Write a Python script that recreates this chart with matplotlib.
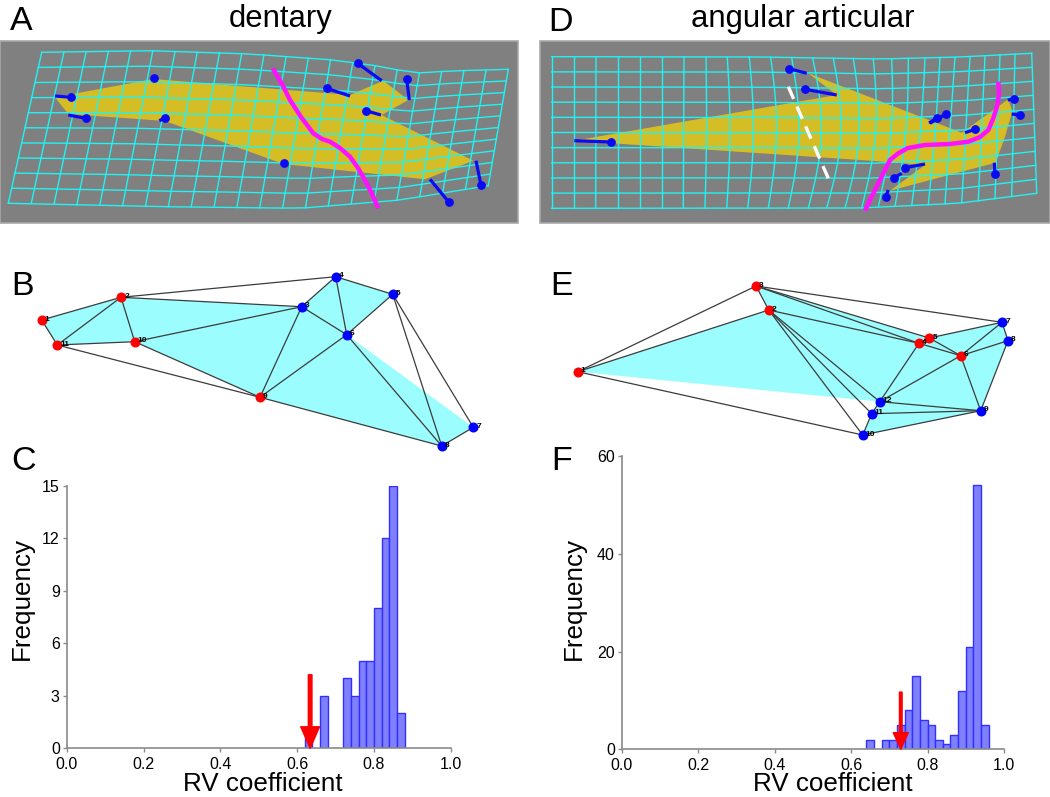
import numpy as np
import matplotlib
matplotlib.use('Agg')
import matplotlib.pyplot as plt
from matplotlib.patches import Polygon, Rectangle

plt.rcParams['font.family'] = ['Liberation Sans', 'DejaVu Sans']

# ---------------- histogram data (panels C and F) ----------------
bin_width = 0.02
c_bin_left = [0.62, 0.66, 0.72, 0.74, 0.76, 0.78, 0.80, 0.82, 0.84, 0.86]
c_counts = [1, 3, 4, 3, 5, 5, 8, 12, 15, 2]
c_observed = 0.634
c_arrow_top = 4.2

f_bin_left = [0.64, 0.68, 0.70, 0.72, 0.74, 0.76, 0.78, 0.80, 0.82, 0.84,
              0.86, 0.88, 0.90, 0.92, 0.94]
f_counts = [2, 2, 2, 5, 8, 15, 6, 5, 2, 1, 3, 12, 21, 54, 5]
f_observed = 0.73
f_arrow_top = 11.7

x_ticks = [0.0, 0.2, 0.4, 0.6, 0.8, 1.0]
x_tick_labels = ['0.0', '0.2', '0.4', '0.6', '0.8', '1.0']
c_y_ticks = [0, 3, 6, 9, 12, 15]
f_y_ticks = [0, 20, 40, 60]

# ---------------- landmark networks (panels B and E) ----------------
b_x = [41.7, 121, 301.7, 335.7, 392.7, 346.7, 473.3, 441.7, 260, 134.7, 57.3]
b_y = [320, 297.3, 306.7, 276.7, 294.3, 334.7, 427.3, 446, 397.3, 341.7, 345]
b_red = [1, 2, 9, 10, 11]
b_edges = [(1, 2), (1, 11), (2, 11), (2, 10), (11, 10), (2, 4), (2, 3), (10, 3),
           (10, 9), (11, 9), (3, 4), (3, 6), (3, 9), (4, 6), (4, 5), (5, 6),
           (5, 8), (5, 7), (6, 9), (6, 8), (9, 8), (8, 7)]
b_outline = [1, 2, 3, 4, 5, 6, 7, 8, 9, 10, 11]

e_x = [577.7, 768.7, 756, 919, 929.3, 960.7, 1002, 1008, 980.7, 862.7, 871.7, 879.7]
e_y = [371.7, 310, 286, 343.3, 338, 355.7, 322.3, 340.7, 410.7, 435, 413.7, 401.7]
e_red = [1, 2, 3, 4, 5, 6]
e_edges = [(1, 3), (1, 2), (1, 10), (3, 2), (3, 7), (3, 4), (3, 5), (2, 4),
           (2, 12), (2, 11), (2, 10), (4, 6), (4, 5), (5, 7), (5, 6), (6, 7),
           (6, 8), (7, 8), (8, 9), (6, 9), (6, 12), (4, 12), (12, 9), (11, 9),
           (10, 9), (10, 11), (11, 12)]
e_outline = [1, 2, 3, 5, 7, 8, 9, 10, 11, 12]

# ---------------- deformation grids (panels A and D) ----------------
a_box = (0, 40.7, 518, 223)
a_top_x = [41.7, 150, 250, 333, 383, 413, 450, 508.3]
a_top_y = [52.3, 50.7, 54, 60, 66.7, 73.3, 71, 69.3]
a_bot_x = [8.3, 166.7, 300, 400, 488.3]
a_bot_y = [203.3, 206.7, 208.3, 200, 185.7]
a_cols, a_rows = 21, 10
a_shape_x = [55, 153.3, 350, 383.3, 408.3, 381.7, 473.3, 425, 283.3, 165, 68.3]
a_shape_y = [97.3, 79, 95, 80.7, 100, 115, 160.7, 179.3, 164, 121, 114]
a_dot_x = [71, 154.3, 85.7, 165, 284.3, 326.7, 357.7, 406.7, 365.7, 481, 449]
a_dot_y = [97.3, 78.3, 118.3, 117.7, 163.3, 88.3, 63.3, 79.3, 110.7, 185.3, 202.3]
a_tail_x = [55, 156, 68.3, 159.3, 284.3, 350, 381.7, 409.3, 381, 476, 430]
a_tail_y = [96, 79, 115, 120.7, 163.3, 96, 80.7, 100, 115, 160.7, 179.3]
a_curve_x = [272.7, 282, 290, 301, 313.3, 322, 330, 340, 350, 358, 366.7, 372.5, 378.3]
a_curve_y = [68.3, 84, 100, 117, 133.3, 139, 141.7, 148, 156.7, 168, 183.3, 195, 208.3]

d_box = (540, 41, 1050, 223)
d_top_cols = [551.7, 574, 596, 617.7, 640, 661.7, 684, 706, 727.3, 749.3, 770.7,
              791.7, 812.7, 833.3, 853.3, 873.3, 891.7, 908.3, 925, 940, 955, 970,
              985, 1000, 1015, 1031.7]
d_bot_cols = [551.7, 574, 595.7, 617.7, 640, 661.7, 683.3, 705, 726.7, 747.7, 768.3,
              788.3, 808.3, 826.7, 845, 861.7, 878.3, 895, 911.7, 928.3, 945, 961.7,
              978.3, 995, 1011.7, 1036.7]
d_col_bow = [0, 0, 0, 0, 0, 0, 0, 1, 3, 5, 7, 9, 11, 11, 10, 8, 6, 4, 2, 1,
             0, 0, 0, 0, 0, 0]
d_top_x = [551.7, 760, 880, 960, 1031.7]
d_top_y = [56.7, 57, 59, 57, 53.3]
d_bot_x = [551.7, 860, 958, 1036.7]
d_bot_y = [208.3, 208, 203.3, 193.3]
d_rows = 10
d_shape_x = [574.3, 836.7, 808.3, 961.7, 1008.3, 1012.3, 1005, 995.7, 890, 925, 875]
d_shape_y = [140.7, 95, 73.3, 132.7, 99.3, 111.7, 136.7, 162.7, 190.7, 165, 161]
d_dot_x = [611, 789.3, 805, 946, 937, 975, 1014.3, 1019.7, 995, 905, 894.3, 885.7]
d_dot_y = [142, 68.7, 89.3, 114, 118, 129.3, 99.3, 115, 174, 167.7, 177.7, 196.7]
d_tail_x = [574.3, 806.7, 836.7, 930, 929, 965, 1007.7, 1011.7, 994.3, 925, 901.7, 888.3]
d_tail_y = [140.7, 73.3, 95, 123.3, 123, 132.7, 100, 114, 162.7, 164, 173.3, 190]
d_curve_x = [998.3, 999, 997, 993, 988.3, 980, 968.3, 950, 925, 908, 898.3, 890, 885, 880, 875, 870, 865]
d_curve_y = [81.7, 94, 106.7, 119, 130, 137, 141.7, 144, 145, 148, 153.3, 160, 170, 180, 190, 200, 210.7]
d_dash_x = [788.3, 828.3]
d_dash_y = [86.7, 178.3]

CYAN = '#1ff3f3'
YELLOW = '#d5bd25'
GRAY = '#808080'
BLUE = '#0a0af5'
MAGENTA = '#ff10ff'
FILL = '#9bfdfd'

fig = plt.figure(figsize=(10.5, 7.97), dpi=100)
ax0 = fig.add_axes([0, 0, 1, 1])
ax0.set_xlim(0, 1050)
ax0.set_ylim(797, 0)
ax0.axis('off')


def draw_grid(ax, top_cols, bot_cols, tx, ty, bx, by, rows, bow=None):
    top_cols = np.asarray(top_cols, float)
    bot_cols = np.asarray(bot_cols, float)
    yt = np.interp(top_cols, tx, ty)
    yb = np.interp(bot_cols, bx, by)
    v = np.linspace(0, 1, rows + 1)[:, None]
    gx = top_cols[None, :] * (1 - v) + bot_cols[None, :] * v
    gy = yt[None, :] * (1 - v) + yb[None, :] * v
    if bow is not None:
        gx = gx + np.asarray(bow, float)[None, :] * np.sin(np.pi * v)
    for r in range(gx.shape[0]):
        ax.plot(gx[r], gy[r], color=CYAN, lw=1.0, zorder=3)
    for c in range(gx.shape[1]):
        ax.plot(gx[:, c], gy[:, c], color=CYAN, lw=1.0, zorder=3)


def draw_panel_warp(ax, box, cols_top, cols_bot, tx, ty, bx, by, rows,
                    sx, sy, dx, dy, tlx, tly, cx, cy, bow=None):
    x0, y0, x1, y1 = box
    ax.add_patch(Rectangle((x0, y0), x1 - x0, y1 - y0, facecolor=GRAY,
                           edgecolor='#a8a8a8', lw=1.2, zorder=1))
    ax.add_patch(Polygon(np.column_stack([sx, sy]), closed=True,
                         facecolor=YELLOW, edgecolor='none', zorder=2))
    draw_grid(ax, cols_top, cols_bot, tx, ty, bx, by, rows, bow)
    for i in range(len(dx)):
        ax.plot([dx[i], tlx[i]], [dy[i], tly[i]], color=BLUE, lw=2.3,
                solid_capstyle='butt', zorder=4)
    ax.plot(dx, dy, 'o', color=BLUE, ms=5.3, zorder=5)
    ax.plot(cx, cy, color=MAGENTA, lw=3.2, zorder=6, solid_capstyle='butt')


a_cols_top = np.linspace(a_top_x[0], a_top_x[-1], a_cols + 1)
a_cols_bot = np.linspace(a_bot_x[0], a_bot_x[-1], a_cols + 1)
draw_panel_warp(ax0, a_box, a_cols_top, a_cols_bot, a_top_x, a_top_y, a_bot_x,
                a_bot_y, a_rows, a_shape_x, a_shape_y, a_dot_x, a_dot_y,
                a_tail_x, a_tail_y, a_curve_x, a_curve_y)
draw_panel_warp(ax0, d_box, d_top_cols, d_bot_cols, d_top_x, d_top_y, d_bot_x,
                d_bot_y, d_rows, d_shape_x, d_shape_y, d_dot_x, d_dot_y,
                d_tail_x, d_tail_y, d_curve_x, d_curve_y, bow=d_col_bow)
ax0.plot(d_dash_x, d_dash_y, color='white', lw=2.4, dashes=(4, 2.5), zorder=6)


def draw_network(ax, xs, ys, red, edges, outline):
    ax.add_patch(Polygon(np.column_stack([[xs[i - 1] for i in outline],
                                          [ys[i - 1] for i in outline]]),
                         closed=True, facecolor=FILL, edgecolor='none', zorder=1))
    for a, b in edges:
        ax.plot([xs[a - 1], xs[b - 1]], [ys[a - 1], ys[b - 1]],
                color='#3c3c3c', lw=0.9, zorder=2)
    for i in range(len(xs)):
        col = '#ff0000' if (i + 1) in red else '#0000ff'
        ax.plot(xs[i], ys[i], 'o', color=col, ms=6.2, zorder=3)
        ax.text(xs[i] + 3.2, ys[i] + 0.5, str(i + 1), fontsize=6,
                fontweight='bold', color='black', ha='left', va='baseline',
                zorder=4)


draw_network(ax0, b_x, b_y, b_red, b_edges, b_outline)
draw_network(ax0, e_x, e_y, e_red, e_edges, e_outline)

# panel letters and titles
letter_fs = 24.5
for lab, lx, ly in [('A', 9.5, 29.5), ('B', 11.5, 295), ('C', 11.5, 470),
                    ('D', 548, 30.5), ('E', 550, 295), ('F', 551, 470)]:
    ax0.text(lx, ly, lab, fontsize=letter_fs, ha='left', va='baseline')
ax0.text(281, 26.7, 'dentary', fontsize=22.3, ha='center', va='baseline')
ax0.text(802.5, 26.5, 'angular articular', fontsize=22.3, ha='center', va='baseline')

# axis labels
lab_fs = 18.7
ax0.text(22, 598, 'Frequency', fontsize=lab_fs, rotation=90, ha='center', va='center')
ax0.text(574, 598, 'Frequency', fontsize=lab_fs, rotation=90, ha='center', va='center')
ax0.text(263.3, 791, 'RV coefficient', fontsize=lab_fs, ha='center', va='baseline')
ax0.text(832.5, 791, 'RV coefficient', fontsize=lab_fs, ha='center', va='baseline')


def hist_axes(rect, lefts, counts, yticks, obs, arrow_top, arrow_kw):
    ax = fig.add_axes(rect)
    ax.set_facecolor('none')
    ax.bar(lefts, counts, width=bin_width, align='edge', facecolor='#8080ff',
           edgecolor='#3030ff', lw=1.0, zorder=2)
    ax.set_xlim(0, 1)
    ax.set_ylim(0, yticks[-1])
    ax.set_xticks(x_ticks)
    ax.set_xticklabels(x_tick_labels)
    ax.set_yticks(yticks)
    for s in ['top', 'right']:
        ax.spines[s].set_visible(False)
    for s in ['left', 'bottom']:
        ax.spines[s].set_color('#8a8a8a')
        ax.spines[s].set_linewidth(1.2)
    ax.tick_params(axis='both', direction='out', length=3, width=1,
                   color='#8a8a8a', labelsize=11.5, pad=2)
    ax.tick_params(axis='x', pad=3)
    ax.annotate('', xy=(obs, 0), xytext=(obs, arrow_top),
                arrowprops=dict(facecolor='red', edgecolor='red', shrink=0,
                                **arrow_kw),
                annotation_clip=False, zorder=5)
    return ax


axC = hist_axes([66.7 / 1050, 1 - 748.3 / 797, (450.7 - 66.7) / 1050, (748.3 - 485.7) / 797],
                c_bin_left, c_counts, c_y_ticks, c_observed, c_arrow_top,
                dict(width=2.6, headwidth=13.5, headlength=15.5))
axF = hist_axes([621.7 / 1050, 1 - 749.3 / 797, (1004 - 621.7) / 1050, (749.3 - 456) / 797],
                f_bin_left, f_counts, f_y_ticks, f_observed, f_arrow_top,
                dict(width=1.9, headwidth=10.8, headlength=12))

fig.savefig('out.png', dpi=100)
